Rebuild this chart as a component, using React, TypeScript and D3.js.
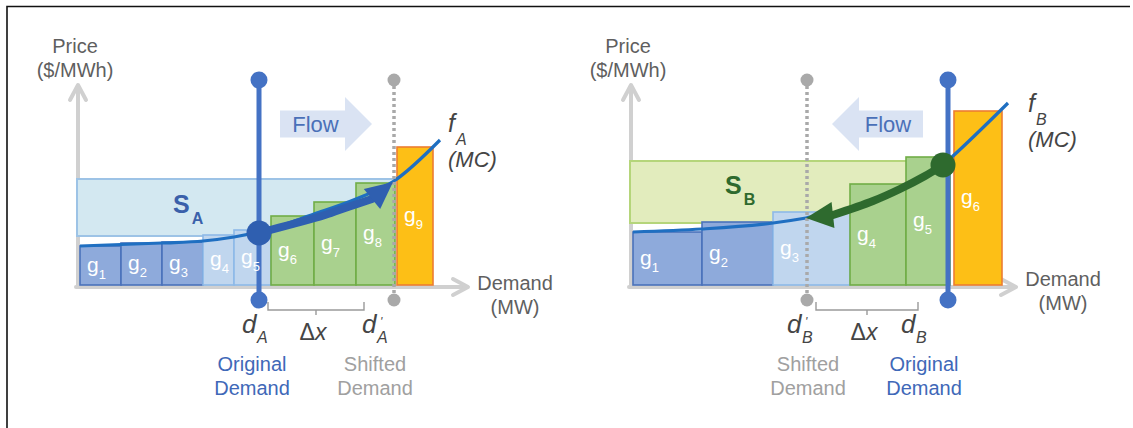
import * as d3 from "d3";

const W = 1133;
const H = 428;

// market A (exporting side)
const genA = ["1", "2", "3", "4", "5", "6", "7", "8", "9"];
const capA = [41, 41, 41, 31, 37, 43, 42, 39, 36]; // MW
const priceA = [39, 42, 43, 50, 55, 69, 83, 102, 138]; // $/MWh
const typeA = ["base", "base", "base", "mid", "mid", "green", "green", "green", "peak"];
const curveAmw = [0, 82, 123, 154, 179, 234, 276, 314, 360];
const curveAprice = [39, 42, 44, 48, 53, 71, 86, 104, 145];
const arrowAmw = [179, 213, 245, 268, 292, 313];
const arrowAprice = [52, 61, 70, 78, 86, 103];
const demandA = 179;
const shiftedA = 314;
const surplusA = [49, 106];

// market B (importing side)
const genB = ["1", "2", "3", "4", "5", "6"];
const capB = [69, 71, 77, 56, 44, 48];
const priceB = [53, 63, 73, 101, 128, 174];
const typeB = ["base", "base", "mid", "green", "green", "peak"];
const curveBmw = [0, 69, 140, 173, 217, 273, 310, 320, 375];
const curveBprice = [53, 56, 62, 67, 76, 98, 120, 129, 182];
const arrowBmw = [310, 292, 267, 240, 200, 173];
const arrowBprice = [120, 109, 96, 84, 70, 67];
const demandB = 315;
const shiftedB = 174;
const surplusB = [62, 124];

const FONT = "'Liberation Sans', Arial, sans-serif";

const barStyle = {
  base: { fill: "#8eaadb", stroke: "#4a72bb" },
  mid: { fill: "#c0d6ee", stroke: "#8db9e8" },
  green: { fill: "#a9d18e", stroke: "#70ad47" },
  peak: { fill: "#fdbf16", stroke: "#ed7d31" },
};

function Panel(p) {
  const x = d3.scaleLinear().domain([0, p.axisMax]).range([p.x0, p.x0 + p.axisMax]);
  const y = d3.scaleLinear().domain([0, 200]).range([285, 85]);

  // stack generators along the demand axis
  const starts = [];
  let acc = 0;
  p.caps.forEach((c, i) => {
    if (p.types[i] === "peak") acc += p.peakGap;
    starts.push(acc);
    acc += c;
  });

  const line = d3.line().curve(d3.curveMonotoneX);
  const curvePts = p.curveMw.map((m, i) => [x(m), y(p.curvePrice[i])]);

  const arrowPts = p.arrowMw.map((m, i) => [x(m), y(p.arrowPrice[i])]);
  const tip = arrowPts[arrowPts.length - 1];
  const base = arrowPts[arrowPts.length - 2];
  const ang = Math.atan2(tip[1] - base[1], tip[0] - base[0]);
  const hw = p.headHalf;
  const head = [
    tip,
    [base[0] - Math.sin(ang) * hw, base[1] + Math.cos(ang) * hw],
    [base[0] + Math.sin(ang) * hw, base[1] - Math.cos(ang) * hw],
  ];
  const shaft = d3.line().curve(d3.curveCatmullRom)(arrowPts.slice(0, -1));

  const ax = x(0) - 2;
  const ay = y(0) + 2;
  const axTip = x(p.axisMax);
  const ayTip = y(200);

  const xd = x(p.demand);
  const xs = x(p.shifted);
  const lo = Math.min(xd, xs);
  const hi = Math.max(xd, xs);

  // flow block arrow between the two demand lines
  const fy = 124;
  const fdir = p.shifted > p.demand ? 1 : -1;
  const fTail = fdir > 0 ? lo + 21 : hi - 25;
  const fTip = fdir > 0 ? hi - 22 : lo + 25;
  const fBase = fTip - fdir * 27;
  const flowPoly = [
    [fTail, fy - 13.5],
    [fBase, fy - 13.5],
    [fBase, fy - 27],
    [fTip, fy],
    [fBase, fy + 27],
    [fBase, fy + 13.5],
    [fTail, fy + 13.5],
  ];

  const bL = lo + 9;
  const bR = hi - 30;
  const bM = (bL + bR) / 2;

  return (
    <g fontFamily={FONT}>
      {/* axes */}
      <g stroke="#d0d0d0" strokeWidth={4} fill="none" strokeLinecap="round" strokeLinejoin="round">
        <line x1={ax} y1={ay} x2={ax} y2={ayTip + 2} />
        <line x1={ax - 2} y1={ay} x2={axTip - 2} y2={ay} />
        <polyline points={`${ax - 8},${ayTip + 15} ${ax},${ayTip} ${ax + 8},${ayTip + 15}`} />
        <polyline points={`${axTip - 15},${ay - 8} ${axTip},${ay} ${axTip - 15},${ay + 8}`} />
      </g>

      {/* surplus area */}
      <rect
        x={x(0) - 3}
        y={y(p.surplus[1])}
        width={hi - x(0) + 3}
        height={y(p.surplus[0]) - y(p.surplus[1])}
        fill={p.sFill}
        stroke={p.sStroke}
        strokeWidth={2}
      />

      {/* generators */}
      {p.caps.map((c, i) => (
        <rect
          key={i}
          x={x(starts[i])}
          y={y(p.prices[i])}
          width={x(starts[i] + c) - x(starts[i])}
          height={y(0) - y(p.prices[i])}
          fill={barStyle[p.types[i]].fill}
          stroke={barStyle[p.types[i]].stroke}
          strokeWidth={1.6}
        />
      ))}

      {/* marginal cost curve */}
      <path d={line(curvePts)} fill="none" stroke="#1f6fc1" strokeWidth={3.2} />

      {/* shifted demand (dotted) */}
      <line x1={xs} y1={y(205)} x2={xs} y2={y(-15)} stroke="#a9a9a9" strokeWidth={3.5} strokeDasharray="3 3" />
      <circle cx={xs} cy={y(205)} r={6.5} fill="#a9a9a9" />
      <circle cx={xs} cy={y(-15)} r={6.5} fill="#a9a9a9" />

      {/* original demand */}
      <line x1={xd} y1={y(205)} x2={xd} y2={y(-15)} stroke="#4472c4" strokeWidth={5} />
      <circle cx={xd} cy={y(205)} r={8.5} fill="#4472c4" />
      <circle cx={xd} cy={y(-15)} r={8.5} fill="#4472c4" />

      {/* generator labels */}
      {p.caps.map((c, i) => {
        const cy = (y(p.prices[i]) + y(0)) / 2 + 6;
        return (
          <text key={i} x={x(starts[i]) + 7} y={cy} fill="#fff" fontSize={21}>
            g
            <tspan fontSize={13} dy={7}>
              {p.gens[i]}
            </tspan>
          </text>
        );
      })}

      {/* price movement arrow */}
      <path d={shaft} fill="none" stroke={p.arrowColor} strokeWidth={p.shaftWidth} strokeLinecap="round" />
      <polygon points={head.map((d) => d.join(",")).join(" ")} fill={p.arrowColor} />
      <circle cx={arrowPts[0][0]} cy={arrowPts[0][1]} r={12.5} fill={p.arrowColor} />

      {/* flow */}
      <polygon points={flowPoly.map((d) => d.join(",")).join(" ")} fill="#dae3f3" />
      <text x={(fTail + fBase) / 2 + fdir * 3} y={fy + 8} textAnchor="middle" fontSize={22} fill="#4a70b8">
        Flow
      </text>

      {/* S label */}
      <text x={p.sLabel[0]} y={p.sLabel[1]} fontSize={25} fontWeight="bold" fill={p.sColor}>
        S
        <tspan fontSize={16} dy={11} dx={2}>
          {p.name}
        </tspan>
      </text>

      {/* axis titles */}
      <g fill="#5f5f5f" fontSize={20} textAnchor="middle">
        <text x={ax - 3} y={53}>Price</text>
        <text x={ax - 3} y={77}>($/MWh)</text>
        <text x={axTip + 47} y={p.demandTitleY}>Demand</text>
        <text x={axTip + 47} y={p.demandTitleY + 24}>(MW)</text>
      </g>

      {/* f (MC) label */}
      <g fill="#454545" fontStyle="italic">
        <text x={p.fLabel[0]} y={p.fLabel[1]} fontSize={25}>f</text>
        <text x={p.fLabel[0] + 8} y={p.fLabel[1] + 13} fontSize={16}>{p.name}</text>
        <text x={p.fLabel[0]} y={p.fLabel[1] + 35} fontSize={22}>(MC)</text>
      </g>

      {/* bracket and delta */}
      <path
        d={`M${bL},302 V310 H${bR} V302 M${bM},310 V315`}
        fill="none"
        stroke="#9a9a9a"
        strokeWidth={1.4}
      />
      <text x={bM - 3} y={340} textAnchor="middle" fontSize={23} fill="#454545">
        Δ<tspan fontStyle="italic">x</tspan>
      </text>

      {/* d labels */}
      <g fill="#454545" fontStyle="italic">
        <text x={p.dLabel[0]} y={333} fontSize={26}>d</text>
        <text x={p.dLabel[0] + 15} y={343} fontSize={16}>{p.name}</text>
        <text x={p.dsLabel[0]} y={333} fontSize={26}>d</text>
        <text x={p.dsLabel[0] + 18} y={326} fontSize={12}>'</text>
        <text x={p.dsLabel[0] + 15} y={343} fontSize={16}>{p.name}</text>
      </g>

      <g fontSize={20} textAnchor="middle">
        <text x={p.origText} y={371} fill="#4068b8">Original</text>
        <text x={p.origText} y={395} fill="#4068b8">Demand</text>
        <text x={p.shiftText} y={371} fill="#a0a0a0">Shifted</text>
        <text x={p.shiftText} y={395} fill="#a0a0a0">Demand</text>
      </g>
    </g>
  );
}

export default function App() {
  return (
    <svg
      width={W}
      height={H}
      style={{ position: "absolute", left: 0, top: 0, background: "#fff" }}
    >
      <rect width={W} height={H} fill="#fff" />
      <path d={`M7,${H} V6.5 H1130`} fill="none" stroke="#111" strokeWidth={1.6} />
      <Panel
        name="A"
        x0={80}
        axisMax={388}
        gens={genA}
        caps={capA}
        prices={priceA}
        types={typeA}
        peakGap={2}
        curveMw={curveAmw}
        curvePrice={curveAprice}
        arrowMw={arrowAmw}
        arrowPrice={arrowAprice}
        headHalf={13}
        shaftWidth={8}
        arrowColor="#2f5fb0"
        demand={demandA}
        shifted={shiftedA}
        surplus={surplusA}
        sFill="#d3e8f1"
        sStroke="#9dc3e6"
        sColor="#3a60aa"
        sLabel={[173, 213]}
        fLabel={[448, 132]}
        demandTitleY={290}
        dLabel={[242]}
        dsLabel={[362]}
        origText={252}
        shiftText={375}
      />
      <Panel
        name="B"
        x0={633}
        axisMax={383}
        gens={genB}
        caps={capB}
        prices={priceB}
        types={typeB}
        peakGap={4}
        curveMw={curveBmw}
        curvePrice={curveBprice}
        arrowMw={arrowBmw}
        arrowPrice={arrowBprice}
        headHalf={13}
        shaftWidth={8}
        arrowColor="#2e6a2e"
        demand={demandB}
        shifted={shiftedB}
        surplus={surplusB}
        sFill="#e2ecbd"
        sStroke="#b5d57a"
        sColor="#2e6a2e"
        sLabel={[725, 194]}
        fLabel={[1028, 112]}
        demandTitleY={286}
        dLabel={[901]}
        dsLabel={[787]}
        origText={924}
        shiftText={808}
      />
    </svg>
  );
}
